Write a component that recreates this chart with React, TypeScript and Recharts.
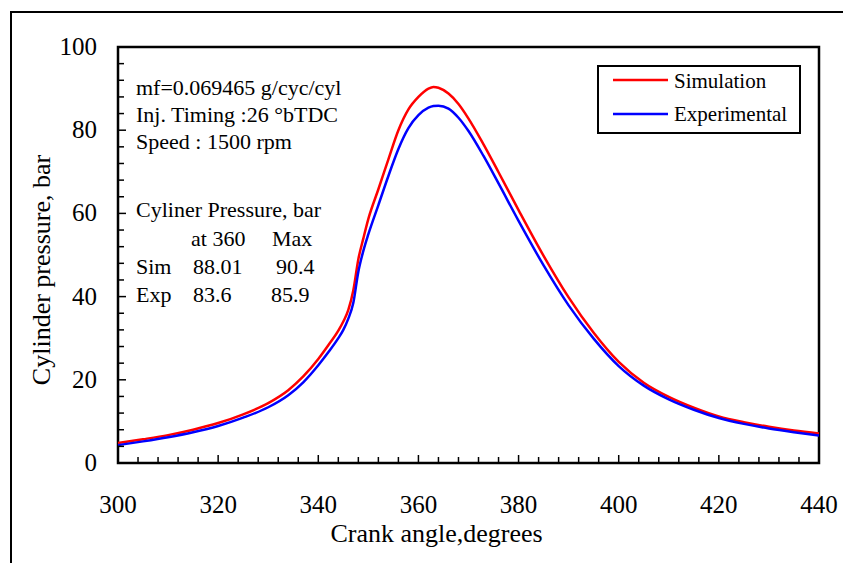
import React from 'react';
import { LineChart, Line, XAxis, YAxis, ReferenceArea, Legend } from 'recharts';

const angles = [300, 305, 310, 315, 320, 325, 330, 334, 337, 340, 342, 344, 345, 346, 347, 348, 349, 350, 352, 354, 356, 358, 360, 362, 363, 364, 366, 368, 370, 373, 376, 380, 385, 390, 395, 400, 405, 410, 415, 420, 425, 430, 435, 440];
const simulation = [4.8, 5.7, 6.7, 8.0, 9.6, 11.7, 14.4, 17.5, 20.8, 25.0, 28.3, 31.8, 34.0, 36.8, 41.5, 49.0, 54.0, 58.7, 65.8, 73.0, 80.0, 85.0, 88.0, 90.0, 90.4, 90.2, 88.8, 86.3, 82.8, 76.6, 69.9, 60.8, 49.8, 39.8, 31.3, 24.3, 19.3, 15.9, 13.3, 11.2, 9.8, 8.7, 7.8, 7.1];
const experimental = [4.3, 5.2, 6.2, 7.4, 8.9, 10.9, 13.4, 16.3, 19.4, 23.5, 26.6, 30.0, 32.0, 34.7, 38.5, 46.0, 51.0, 55.0, 62.0, 69.0, 75.5, 80.5, 83.6, 85.4, 85.8, 85.9, 85.2, 83.0, 79.8, 73.8, 67.2, 58.2, 47.5, 37.9, 29.9, 23.3, 18.6, 15.3, 12.8, 10.8, 9.4, 8.3, 7.4, 6.6];

const xTicks = [300, 304, 308, 312, 316, 320, 324, 328, 332, 336, 340, 344, 348, 352, 356, 360, 364, 368, 372, 376, 380, 384, 388, 392, 396, 400, 404, 408, 412, 416, 420, 424, 428, 432, 436, 440];
const yTicks = [0, 4, 8, 12, 16, 20, 24, 28, 32, 36, 40, 44, 48, 52, 56, 60, 64, 68, 72, 76, 80, 84, 88, 92, 96, 100];

const infoLines = ['mf=0.069465 g/cyc/cyl', 'Inj. Timing :26 °bTDC', 'Speed : 1500 rpm'];
const tableTitle = 'Cyliner Pressure, bar';
const tableHeader = ['at 360', 'Max'];
const tableRows = [
  ['Sim', '88.01', '90.4'],
  ['Exp', '83.6', '85.9'],
];

const seriesNames = ['Simulation', 'Experimental'];
const seriesColors = ['#ff0000', '#0000ff'];

const data = angles.map((a, i) => ({ angle: a, sim: simulation[i], exp: experimental[i] }));

const FONT = '"Liberation Serif", "Times New Roman", serif';

const XTick = (props: any) => {
  const { x, y, payload } = props;
  const v = payload.value;
  const major = v % 20 === 0;
  return (
    <g>
      <line x1={x} x2={x} y1={y} y2={y - (major ? 8 : 6)} stroke="#000" strokeWidth={1.5} />
      {major && (
        <text x={x} y={y + 50} textAnchor="middle" fontSize={25} fontFamily={FONT} fill="#000">
          {v}
        </text>
      )}
    </g>
  );
};

const YTick = (props: any) => {
  const { x, y, payload } = props;
  const v = payload.value;
  const major = v % 20 === 0;
  return (
    <g>
      <line x1={x} x2={x + (major ? 8 : 6)} y1={y} y2={y} stroke="#000" strokeWidth={1.5} />
      {major && (
        <text x={x - 21} y={y + 8} textAnchor="end" fontSize={25} fontFamily={FONT} fill="#000">
          {v}
        </text>
      )}
    </g>
  );
};

const LegendBox = () => (
  <div
    style={{
      width: 204,
      height: 69,
      border: '2px solid #000',
      boxSizing: 'border-box',
      background: '#fff',
      position: 'relative',
    }}
  >
    <svg width={200} height={65} style={{ position: 'absolute', left: 0, top: 0 }}>
      {seriesNames.map((n, i) => (
        <g key={n}>
          <line x1={14} x2={69} y1={13 + i * 34} y2={13 + i * 34} stroke={seriesColors[i]} strokeWidth={2.5} />
          <text x={75} y={21 + i * 33} fontSize={21} fontFamily={FONT} fill="#000">
            {n}
          </text>
        </g>
      ))}
    </svg>
  </div>
);

export default function App() {
  return (
    <div
      style={{
        position: 'absolute',
        left: 0,
        top: 0,
        width: 843,
        height: 563,
        overflow: 'hidden',
        background: '#fff',
      }}
    >
      <div
        style={{
          position: 'absolute',
          left: 10,
          top: 11,
          width: 850,
          height: 570,
          borderLeft: '2px solid #000',
          borderTop: '2px solid #000',
        }}
      />
      <div style={{ position: 'absolute', left: 0, top: 0 }}>
        <LineChart width={843} height={563} data={data} margin={{ top: 47, right: 24, left: 0, bottom: 0 }}>
          <XAxis
            dataKey="angle"
            type="number"
            domain={[300, 440]}
            ticks={xTicks}
            interval={0}
            height={100}
            tickSize={0}
            tickMargin={0}
            axisLine={false}
            tickLine={false}
            tick={<XTick />}
            label={{
              content: (p: any) => {
                const vb = p.viewBox || {};
                return (
                  <text x={vb.x + vb.width / 2 - 32} y={vb.y + 79} textAnchor="middle" fontSize={26} fontFamily={FONT} fill="#000">
                    Crank angle,degrees
                  </text>
                );
              },
            }}
          />
          <YAxis
            type="number"
            domain={[0, 100]}
            ticks={yTicks}
            interval={0}
            width={118}
            tickSize={0}
            tickMargin={0}
            axisLine={false}
            tickLine={false}
            tick={<YTick />}
            label={{
              content: (p: any) => {
                const vb = p.viewBox || {};
                const cx = vb.x + 50;
                const cy = vb.y + vb.height / 2 + 15;
                return (
                  <text x={cx} y={cy} transform={`rotate(-90 ${cx} ${cy})`} textAnchor="middle" fontSize={26} fontFamily={FONT} fill="#000">
                    Cylinder pressure, bar
                  </text>
                );
              },
            }}
          />
          <ReferenceArea x1={300} x2={440} y1={0} y2={100} fill="none" stroke="#000" strokeWidth={2.5} />
          <Line type="monotone" dataKey="sim" name={seriesNames[0]} stroke={seriesColors[0]} strokeWidth={2.5} dot={false} isAnimationActive={false} />
          <Line type="monotone" dataKey="exp" name={seriesNames[1]} stroke={seriesColors[1]} strokeWidth={2.5} dot={false} isAnimationActive={false} />
          <Legend
            layout="horizontal"
            verticalAlign="middle"
            align="center"
            content={<LegendBox />}
            wrapperStyle={{ position: 'absolute', left: 597, top: 65, width: 204, height: 69 }}
          />
        </LineChart>
      </div>
      <svg width={843} height={563} style={{ position: 'absolute', left: 0, top: 0, pointerEvents: 'none' }}>
        <g fontFamily={FONT} fontSize={22} fill="#000">
          {infoLines.map((t, i) => (
            <text key={t} x={136} y={95 + i * 27}>
              {t}
            </text>
          ))}
          <text x={136} y={217}>{tableTitle}</text>
          <text x={191} y={246}>{tableHeader[0]}</text>
          <text x={272} y={246}>{tableHeader[1]}</text>
          {tableRows.map((r, i) => (
            <g key={r[0]}>
              <text x={136} y={274 + i * 28}>{r[0]}</text>
              <text x={193} y={274 + i * 28}>{r[1]}</text>
              <text x={i === 0 ? 276 : 271} y={274 + i * 28}>{r[2]}</text>
            </g>
          ))}
        </g>
      </svg>
    </div>
  );
}
